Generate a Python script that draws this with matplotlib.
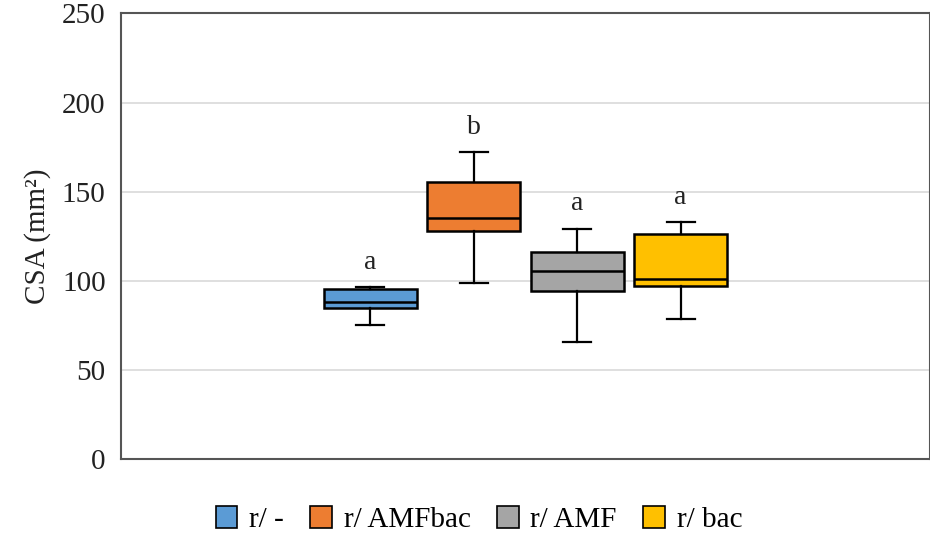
import matplotlib.pyplot as plt
from matplotlib.patches import Patch

# Box-and-whisker summary per treatment
groups = ['r/ -', 'r/ AMFbac', 'r/ AMF', 'r/ bac']
whislo = [75.3, 98.7, 65.7, 78.8]
q1 = [84.8, 128.0, 94.4, 97.2]
med = [88.4, 135.5, 105.7, 101.0]
q3 = [95.5, 155.6, 116.4, 126.0]
whishi = [96.3, 172.1, 129.1, 132.9]
letters = ['a', 'b', 'a', 'a']
colors = ['#5b9bd5', '#ed7d31', '#a5a5a5', '#ffc000']

plt.rcParams['font.family'] = ['Liberation Serif', 'DejaVu Serif']

fig = plt.figure(figsize=(9.3, 5.37), dpi=100)
ax = fig.add_axes([0.13, 0.145, 0.87, 0.83])

stats = []
for i in range(len(groups)):
    stats.append({'label': groups[i], 'whislo': whislo[i], 'q1': q1[i],
                  'med': med[i], 'q3': q3[i], 'whishi': whishi[i]})

positions = list(range(len(groups)))
bp = ax.bxp(stats, positions=positions, widths=0.9, showfliers=False,
            patch_artist=True,
            boxprops=dict(edgecolor='black', linewidth=1.8),
            medianprops=dict(color='black', linewidth=1.8),
            whiskerprops=dict(color='black', linewidth=1.6),
            capprops=dict(color='black', linewidth=1.6), capwidths=0.27)
for box, c in zip(bp['boxes'], colors):
    box.set_facecolor(c)

for x, top, lab in zip(positions, whishi, letters):
    ax.annotate(lab, (x, top), xytext=(0, 9), textcoords='offset points',
                ha='center', va='bottom', fontsize=20, color='#222222')

ax.set_xlim(-2.41, 5.41)
ax.set_ylim(0, 250)
ax.set_yticks(range(0, 251, 50))
ax.set_xticks([])
ax.tick_params(axis='y', length=0, labelsize=21, pad=11, labelcolor='#222222')
ax.grid(axis='y', color='#d9d9d9', linewidth=1.2)
ax.set_axisbelow(True)
for s in ax.spines.values():
    s.set_color('#555555')
    s.set_linewidth(1.5)
ax.set_ylabel('CSA (mm²)', fontsize=21, color='#222222', labelpad=8)

handles = [Patch(facecolor=c, edgecolor='black', linewidth=1.2) for c in colors]
fig.legend(handles, groups, loc='center', bbox_to_anchor=(0.515, 0.032),
           ncol=4, frameon=False, fontsize=21, handlelength=0.75,
           handleheight=0.75, handletextpad=0.4, columnspacing=0.9)

fig.savefig('out.png', dpi=100)
